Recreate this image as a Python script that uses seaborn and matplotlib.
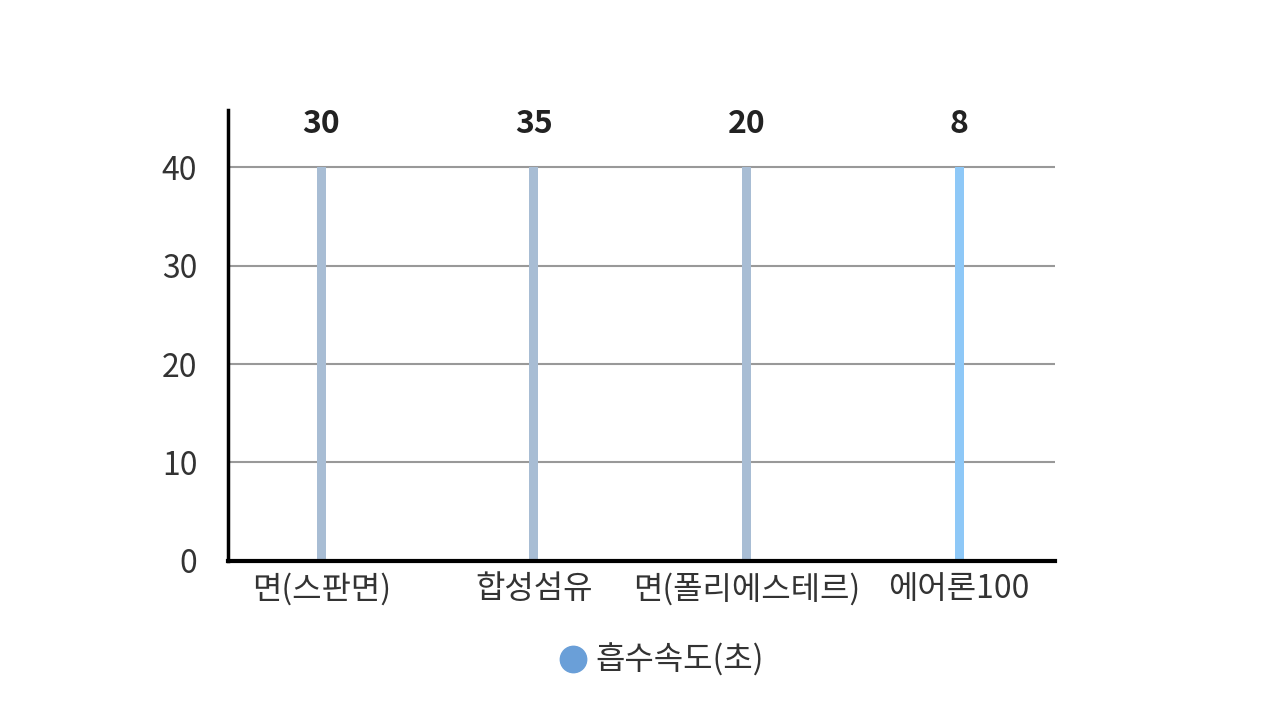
import matplotlib
matplotlib.use("Agg")
from matplotlib import pyplot as plt
from matplotlib.lines import Line2D
import seaborn as sns

categories = ["면(스판면)", "합성섬유", "면(폴리에스테르)", "에어론100"]
bar_heights = [40, 40, 40, 40]
value_labels = [30, 35, 20, 8]
series_name = "흡수속도(초)"
bar_colors = ["#a8bdd4", "#a8bdd4", "#a8bdd4", "#8ec8f7"]

sns.set_style("white")
plt.rcParams["font.family"] = ["Noto Sans CJK KR", "DejaVu Sans"]

fig = plt.figure(figsize=(12.8, 7.2), dpi=100)
ax = fig.add_axes([0.178, 0.221, 0.646, 0.626])

sns.barplot(x=categories, y=bar_heights, hue=categories, palette=bar_colors,
            width=0.042, legend=False, saturation=1, linewidth=0, ax=ax)

ax.set_ylim(0, 45.8)
ax.set_xlim(-0.44, 3.45)
ax.set_yticks([0, 10, 20, 30, 40])
ax.yaxis.grid(True, color="#999999", linewidth=1.5)
ax.set_axisbelow(True)
ax.tick_params(axis="y", length=0, pad=22, labelsize=23, labelcolor="#333333")
ax.tick_params(axis="x", length=0, pad=9, labelsize=23, labelcolor="#333333")
for lbl in ax.get_xticklabels() + ax.get_yticklabels():
    lbl.set_fontweight("light")
ax.set_xlabel("")
ax.set_ylabel("")

for side in ["top", "right"]:
    ax.spines[side].set_visible(False)
ax.spines["left"].set_linewidth(2.5)
ax.spines["left"].set_color("black")
ax.spines["bottom"].set_linewidth(3)
ax.spines["bottom"].set_color("black")

for i, v in enumerate(value_labels):
    ax.text(i, 44.4, str(v), ha="center", va="center", fontsize=23,
            fontweight="bold", color="#222222", clip_on=False)

handle = Line2D([], [], marker="o", linestyle="", markersize=19,
                markerfacecolor="#6a9fd8", markeredgecolor="#6a9fd8")
fig.legend([handle], [series_name], loc="center", bbox_to_anchor=(0.51, 0.083),
           frameon=False, prop={"size": 23, "weight": "light"},
           handletextpad=-0.3, labelcolor="#333333")

fig.savefig("out.png", dpi=100)
